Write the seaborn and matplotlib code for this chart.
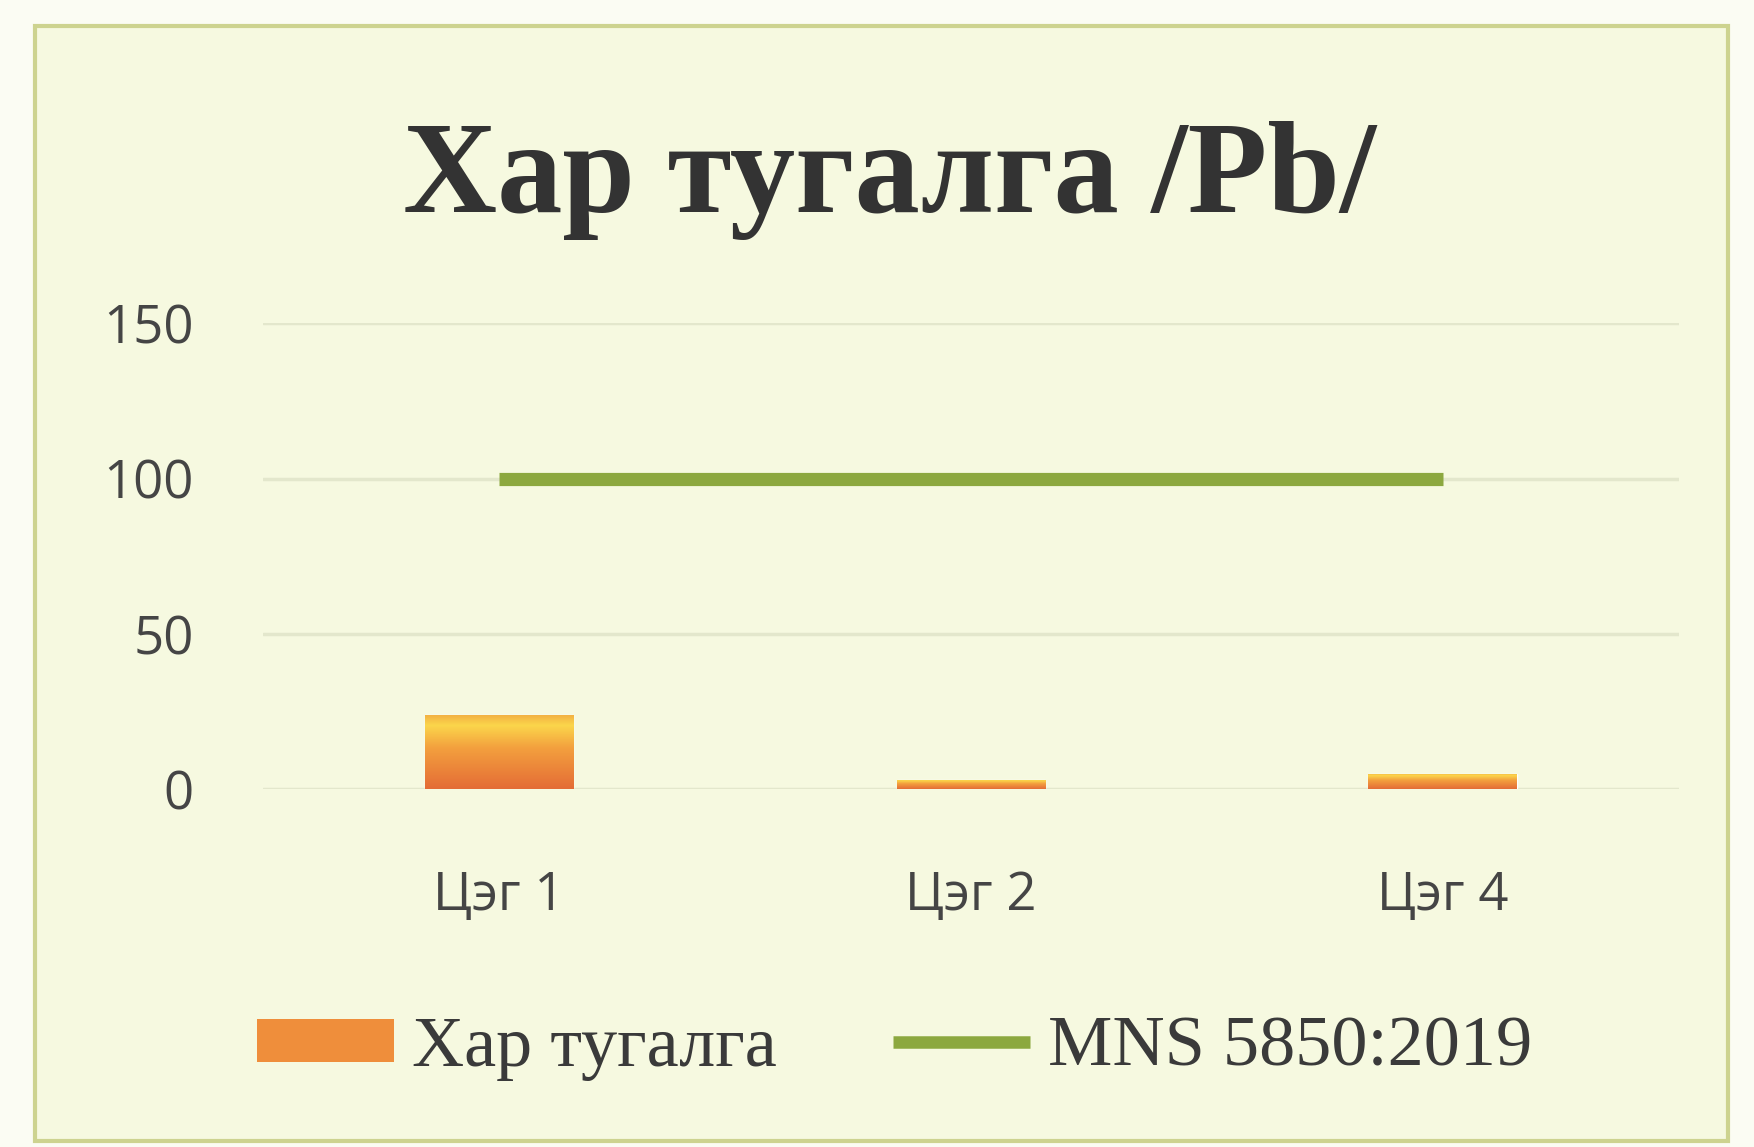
import numpy as np
import pandas as pd
import seaborn as sns
import matplotlib.pyplot as plt
from matplotlib.patches import Rectangle, Patch
from matplotlib.lines import Line2D
from matplotlib.colors import LinearSegmentedColormap

# Data
categories = ["Цэг 1", "Цэг 2", "Цэг 4"]
pb_values = [24, 3, 5]
standard_values = [100, 100, 100]
series_names = ["Хар тугалга", "MNS 5850:2019"]
title = "Хар тугалга /Pb/"

bg = "#F6F9E0"
orange = "#EF8E3B"
green = "#8CA83F"

sns.set_style("white")
plt.rcParams['font.family'] = ['Open Sans', 'DejaVu Sans']

fig = plt.figure(figsize=(17.54, 11.47), dpi=100, facecolor="#FBFCF3")
# chart frame
fig.patches.append(Rectangle((0.02, 0.005), 0.965, 0.972, transform=fig.transFigure,
                             facecolor=bg, edgecolor="#CDD38F", linewidth=3, zorder=-5))
ax = fig.add_axes([0.15, 0.312, 0.807, 0.406])
ax.set_zorder(2)
ax.set_facecolor("none")

df = pd.DataFrame({"Цэг": categories, "Pb": pb_values, "MNS": standard_values})
sns.barplot(data=df, x="Цэг", y="Pb", color=orange, width=0.315, ax=ax, zorder=3)

# gradient fill on the bars
cmap = LinearSegmentedColormap.from_list(
    "bar", [(0, "#E46C36"), (0.55, "#F3A03E"), (0.85, "#FBD64B"), (1, "#F2AE42")])
grad = np.linspace(0, 1, 256).reshape(-1, 1)
for p in list(ax.patches):
    x0, y0 = p.get_x(), p.get_y()
    w, h = p.get_width(), p.get_height()
    im = ax.imshow(grad, cmap=cmap, aspect="auto", origin="lower",
                   extent=[x0, x0 + w, y0, y0 + h], zorder=4)
    im.set_clip_path(p)

sns.lineplot(x=np.arange(len(categories)), y=df["MNS"], color=green, linewidth=9.5,
             solid_capstyle="butt", ax=ax, zorder=5)

ax.set_xlim(-0.5, len(categories) - 0.5)
ax.set_ylim(0, 150)
ax.set_yticks([0, 50, 100, 150])
ax.set_xlabel("")
ax.set_ylabel("")
ax.yaxis.grid(True, color="#E3E7CC", linewidth=2.5)
ax.set_axisbelow(True)
for s in ax.spines.values():
    s.set_visible(False)
ax.tick_params(axis="y", length=0, pad=50, labelsize=38, labelcolor="#454545")
ax.tick_params(axis="x", length=0, pad=58, labelsize=38, labelcolor="#454545")

fig.text(0.507, 0.843, title, ha="center", va="center", fontsize=94,
         fontweight="bold", family=["Liberation Serif", "DejaVu Serif"], color="#333333")

handles = [Patch(facecolor=orange, edgecolor="none"),
           Line2D([0], [0], color=green, linewidth=9, solid_capstyle="butt")]
fig.legend(handles, series_names, loc="center", bbox_to_anchor=(0.51, 0.086), ncol=2,
           frameon=False, handlelength=1.9, handleheight=0.55, handletextpad=0.25,
           columnspacing=1.6,
           prop={"family": ["Liberation Serif", "DejaVu Serif"], "size": 52},
           labelcolor="#3A3A3A")

fig.savefig("out.png", dpi=100, facecolor=fig.get_facecolor())
